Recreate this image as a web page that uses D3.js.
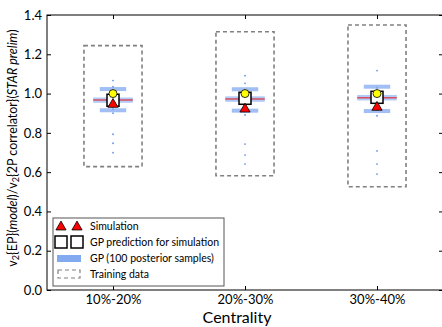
<!DOCTYPE html>
<html>
<head>
<meta charset="utf-8">
<script src="https://cdn.jsdelivr.net/npm/d3@7"></script>
<style>
  body { margin: 0; background: #fff; }
  svg { font-family: Lato, "DejaVu Sans", sans-serif; }
</style>
</head>
<body>
<svg width="442" height="327"></svg>
<script>
// chart values
var categories = ["10%-20%", "20%-30%", "30%-40%"];
var simulation = [0.945, 0.921, 0.930];
var gpPrediction = [0.966, 0.976, 0.981];
var starData = [1.0, 1.0, 1.0];
var gpMedian = [0.967, 0.972, 0.979];
var gpQ1 = [0.953, 0.958, 0.965];
var gpQ3 = [0.980, 0.986, 0.993];
var gpCapLow = [0.915, 0.913, 0.911];
var gpCapHigh = [1.023, 1.022, 1.035];
var gpOutliers = [
	[1.066, 1.035, 0.900, 0.793, 0.747, 0.699],
	[1.091, 1.052, 0.891, 0.743, 0.687, 0.641],
	[1.117, 0.887, 0.708, 0.641, 0.590]
];
var trainLow = [0.628, 0.582, 0.526];
var trainHigh = [1.244, 1.315, 1.349];
var yTicks = [0, 0.2, 0.4, 0.6, 0.8, 1.0, 1.2, 1.4];

(function () {

var svg = d3.select("svg");
var pl = 47, pr = 443, pt = 15, pb = 290;

var x = d3.scaleLinear().domain([-0.5, 2.5]).range([pl, pr]);
var y = d3.scaleLinear().domain([0, 1.4]).range([pb, pt]);
var blue = "#6495ed";

var groups = categories.map(function (c, i) {
	return {i: i, name: c};
});

// training data boxes
svg.selectAll("rect.train")
	.data(groups)
	.enter().append("rect")
	.attr("class", "train")
	.attr("x", function (d) { return x(d.i - 0.22); })
	.attr("width", function (d) { return x(d.i + 0.22) - x(d.i - 0.22); })
	.attr("y", function (d) { return y(trainHigh[d.i]); })
	.attr("height", function (d) { return y(trainLow[d.i]) - y(trainHigh[d.i]); })
	.attr("fill", "none")
	.attr("stroke", "#808080")
	.attr("stroke-width", 1.6)
	.attr("stroke-dasharray", "4,3");

// GP boxplots
var gp = svg.selectAll("g.gp")
	.data(groups)
	.enter().append("g")
	.attr("class", "gp");

gp.append("line")
	.attr("x1", function (d) { return x(d.i); })
	.attr("x2", function (d) { return x(d.i); })
	.attr("y1", function (d) { return y(gpCapHigh[d.i]); })
	.attr("y2", function (d) { return y(gpCapLow[d.i]); })
	.attr("stroke", blue).attr("stroke-width", 1.5).attr("opacity", 0.6);

gp.append("rect")
	.attr("x", function (d) { return x(d.i - 0.15); })
	.attr("width", function (d) { return x(d.i + 0.15) - x(d.i - 0.15); })
	.attr("y", function (d) { return y(gpQ3[d.i]); })
	.attr("height", function (d) { return y(gpQ1[d.i]) - y(gpQ3[d.i]); })
	.attr("fill", blue).attr("opacity", 0.5);

[gpCapLow, gpCapHigh].forEach(function (arr) {
	gp.append("line")
		.attr("x1", function (d) { return x(d.i - 0.1); })
		.attr("x2", function (d) { return x(d.i + 0.1); })
		.attr("y1", function (d) { return y(arr[d.i]); })
		.attr("y2", function (d) { return y(arr[d.i]); })
		.attr("stroke", blue).attr("stroke-width", 4).attr("opacity", 0.6);
});

gp.append("line")
	.attr("x1", function (d) { return x(d.i - 0.15); })
	.attr("x2", function (d) { return x(d.i + 0.15); })
	.attr("y1", function (d) { return y(gpMedian[d.i]); })
	.attr("y2", function (d) { return y(gpMedian[d.i]); })
	.attr("stroke", "#e0303a").attr("stroke-width", 1.5).attr("opacity", 0.8);

gp.selectAll("circle")
	.data(function (d) {
		return gpOutliers[d.i].map(function (v) { return {i: d.i, v: v}; });
	})
	.enter().append("circle")
	.attr("cx", function (d) { return x(d.i); })
	.attr("cy", function (d) { return y(d.v); })
	.attr("r", 0.9)
	.attr("fill", blue);

// GP prediction squares
svg.selectAll("rect.pred")
	.data(groups)
	.enter().append("rect")
	.attr("class", "pred")
	.attr("x", function (d) { return x(d.i) - 6; })
	.attr("y", function (d) { return y(gpPrediction[d.i]) - 6; })
	.attr("width", 12).attr("height", 12)
	.attr("fill", "#fff").attr("stroke", "#000").attr("stroke-width", 1.5);

// simulation triangles
var tri = d3.symbol().type(d3.symbolTriangle).size(45);
svg.selectAll("path.sim")
	.data(groups)
	.enter().append("path")
	.attr("class", "sim")
	.attr("d", tri)
	.attr("transform", function (d) {
		return "translate(" + x(d.i) + "," + y(simulation[d.i]) + ")";
	})
	.attr("fill", "#ff0000").attr("stroke", "#000").attr("stroke-width", 0.8);

// STAR data (yellow)
svg.selectAll("circle.star")
	.data(groups)
	.enter().append("circle")
	.attr("class", "star")
	.attr("cx", function (d) { return x(d.i); })
	.attr("cy", function (d) { return y(starData[d.i]); })
	.attr("r", 4)
	.attr("fill", "#ffff00").attr("stroke", "#000").attr("stroke-width", 0.8);

// axes with inward ticks
var axL = svg.append("g").attr("transform", "translate(" + pl + ",0)")
	.call(d3.axisLeft(y).tickValues(yTicks).tickFormat(d3.format(".1f")).tickSize(-4).tickPadding(5));
var axR = svg.append("g").attr("transform", "translate(" + pr + ",0)")
	.call(d3.axisRight(y).tickValues(yTicks).tickFormat("").tickSize(-4));
var axB = svg.append("g").attr("transform", "translate(0," + pb + ")")
	.call(d3.axisBottom(x).tickValues([0, 1, 2]).tickFormat(function (d) { return categories[d]; }).tickSize(-4).tickPadding(5));
var axT = svg.append("g").attr("transform", "translate(0," + pt + ")")
	.call(d3.axisTop(x).tickValues([0, 1, 2]).tickFormat("").tickSize(-4));

[axL, axR, axB, axT].forEach(function (a) {
	a.select(".domain").remove();
	a.selectAll("line").attr("stroke", "#000");
	a.selectAll("text").attr("font-family", "Lato, sans-serif").attr("fill", "#000");
});
axL.selectAll("text").attr("font-size", 13);
axB.selectAll("text").attr("font-size", 13);

svg.append("rect")
	.attr("x", pl).attr("y", pt)
	.attr("width", pr - pl).attr("height", pb - pt)
	.attr("fill", "none").attr("stroke", "#000").attr("stroke-width", 1);

svg.append("text")
	.attr("x", (pl + pr) / 2 - 8).attr("y", 323)
	.attr("text-anchor", "middle")
	.attr("font-size", 16)
	.text("Centrality");

var yl = svg.append("text")
	.attr("transform", "translate(17,148) rotate(-90)")
	.attr("text-anchor", "middle")
	.attr("font-size", 12.5);
yl.append("tspan").text("v");
yl.append("tspan").attr("font-size", 9).attr("dy", 2).text("2");
yl.append("tspan").attr("dy", -2).text("{EP}(");
yl.append("tspan").attr("font-style", "italic").text("model");
yl.append("tspan").text(")/v");
yl.append("tspan").attr("font-size", 9).attr("dy", 2).text("2");
yl.append("tspan").attr("dy", -2).text("{2P correlator}(");
yl.append("tspan").attr("font-style", "italic").text("STAR prelim");
yl.append("tspan").text(")");

// legend
var lg = svg.append("g");
lg.append("rect")
	.attr("x", 53).attr("y", 218).attr("width", 171).attr("height", 68)
	.attr("fill", "#fff").attr("stroke", "#555").attr("stroke-width", 1);

var items = ["Simulation", "GP prediction for simulation", "GP (100 posterior samples)", "Training data"];
var rowY = [226, 242, 258, 274];
lg.selectAll("text")
	.data(items)
	.enter().append("text")
	.attr("x", 90)
	.attr("y", function (d, i) { return rowY[i] + 4; })
	.attr("font-size", 10.5)
	.text(function (d) { return d; });

[61, 77].forEach(function (cx) {
	lg.append("path").attr("d", tri)
		.attr("transform", "translate(" + cx + "," + (rowY[0] + 1) + ")")
		.attr("fill", "#ff0000").attr("stroke", "#000").attr("stroke-width", 0.8);
	lg.append("rect")
		.attr("x", cx - 6).attr("y", rowY[1] - 6).attr("width", 12).attr("height", 12)
		.attr("fill", "#fff").attr("stroke", "#000").attr("stroke-width", 1.5);
});
lg.append("rect")
	.attr("x", 57).attr("y", rowY[2] - 3).attr("width", 24).attr("height", 7)
	.attr("fill", blue).attr("opacity", 0.8);
lg.append("rect")
	.attr("x", 58).attr("y", rowY[3] - 4).attr("width", 22).attr("height", 8)
	.attr("fill", "none").attr("stroke", "#808080").attr("stroke-width", 1.2)
	.attr("stroke-dasharray", "4,3");

})();
</script>
</body>
</html>
